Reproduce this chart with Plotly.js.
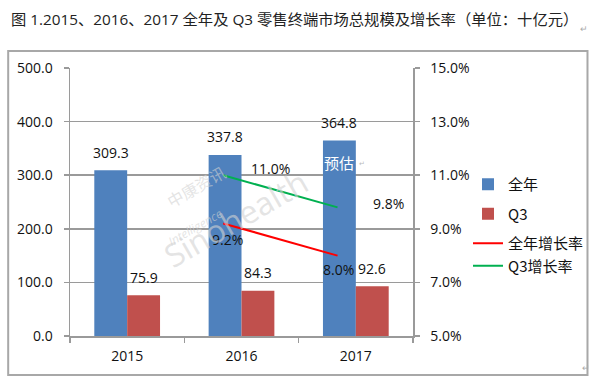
<!DOCTYPE html>
<html>
<head>
<meta charset="utf-8">
<script src="https://cdn.plot.ly/plotly-3.0.1.min.js"></script>
<style>html,body{margin:0;padding:0;background:#fff;}#chart{width:600px;height:390px;}</style>
</head>
<body>
<div id="chart"></div>
<script>
// ---- data ----
const years = ['2015', '2016', '2017'];
const fullYear = [309.3, 337.8, 364.8];          // 全年 (十亿元)
const q3 = [75.9, 84.3, 92.6];                    // Q3 (十亿元)
const growthYears = ['2016', '2017'];
const fullYearGrowth = [9.2, 8.0];                // 全年增长率 (%)
const q3Growth = [11.0, 9.8];                     // Q3增长率 (%)
const leftTicks = [0, 100, 200, 300, 400, 500];
const rightTicks = [5, 7, 9, 11, 13, 15];

// ---- style ----
const FONT = '"Open Sans", "Noto Sans CJK SC", sans-serif';
const CJK = '"Noto Sans CJK SC", sans-serif';
const BLUE = '#4F81BD', RED = '#C0504D', LRED = '#FF0000', LGREEN = '#00B050';
const AXC = '#9a9a9a';
const BAR_SHIFT = 16.5;     // px from category center to each bar center
const LINE_OFFSET = -0.16;  // category units

const idx = y => years.indexOf(y);

const traces = [
  {type: 'bar', name: '全年', x: years, y: fullYear, marker: {color: BLUE},
   legendgroup: 'a', hoverinfo: 'none'},
  {type: 'bar', name: 'Q3', x: years, y: q3, marker: {color: RED},
   legendgroup: 'b', hoverinfo: 'none'},
  {type: 'scatter', mode: 'lines', name: '全年增长率',
   x: growthYears.map(y => idx(y) + LINE_OFFSET), y: fullYearGrowth,
   xaxis: 'x2', yaxis: 'y2', line: {color: LRED, width: 2}, legendgroup: 'c', hoverinfo: 'none'},
  {type: 'scatter', mode: 'lines', name: 'Q3增长率',
   x: growthYears.map(y => idx(y) + LINE_OFFSET), y: q3Growth,
   xaxis: 'x2', yaxis: 'y2', line: {color: LGREEN, width: 2}, legendgroup: 'c', hoverinfo: 'none'}
];

const annFont = {family: FONT, size: 14, color: '#111'};
const annotations = [];
years.forEach((y, i) => {
  annotations.push({x: i, y: fullYear[i], xref: 'x', yref: 'y', text: fullYear[i].toFixed(1),
    showarrow: false, xshift: -BAR_SHIFT, yshift: 18, font: annFont});
  annotations.push({x: i, y: q3[i], xref: 'x', yref: 'y', text: q3[i].toFixed(1),
    showarrow: false, xshift: BAR_SHIFT, yshift: 18, font: annFont});
});
const redShift = [[4, -16], [1, -14]];
const greenShift = [[47, 7], [51, 4]];
growthYears.forEach((y, i) => {
  annotations.push({x: idx(y) + LINE_OFFSET, y: fullYearGrowth[i], xref: 'x2', yref: 'y2',
    text: fullYearGrowth[i].toFixed(1) + '%', showarrow: false,
    xshift: redShift[i][0], yshift: redShift[i][1], font: annFont});
  annotations.push({x: idx(y) + LINE_OFFSET, y: q3Growth[i], xref: 'x2', yref: 'y2',
    text: q3Growth[i].toFixed(1) + '%', showarrow: false,
    xshift: greenShift[i][0], yshift: greenShift[i][1], font: annFont});
});
// 预估 label inside 2017 full-year bar
annotations.push({x: idx('2017'), y: fullYear[2], xref: 'x', yref: 'y', text: '预估', showarrow: false,
  xshift: -BAR_SHIFT, yshift: -22, font: {family: CJK, size: 15, color: '#ffffff'}});

const L = 70, R = 186, T = 68, B = 54, W = 600, H = 390;
const pw = W - L - R, ph = H - T - B;
const px = v => (v - L) / pw, py = v => (H - B - v) / ph;

// watermark
const WM = 'rgba(210,210,210,0.6)';
annotations.push({x: px(160), y: py(186), xref: 'paper', yref: 'paper', text: '中康资讯', showarrow: false,
  textangle: -30, font: {family: CJK, size: 16, color: WM}});
annotations.push({x: px(153), y: py(218), xref: 'paper', yref: 'paper', text: 'Sinohealth', showarrow: false,
  textangle: -30, font: {family: '"Open Sans", sans-serif', size: 32, color: WM}});
annotations.push({x: px(195), y: py(227), xref: 'paper', yref: 'paper', text: '<i>Intelligence</i>', showarrow: false,
  textangle: -30, font: {family: '"Open Sans", sans-serif', size: 12, color: WM}});
// paragraph marks
annotations.push({x: px(592), y: py(20), xref: 'paper', yref: 'paper', text: '↵',
  showarrow: false, font: {family: CJK, size: 9, color: '#aaa'}});
annotations.push({x: px(594), y: py(376), xref: 'paper', yref: 'paper', text: '↵',
  showarrow: false, font: {family: CJK, size: 9, color: '#aaa'}});
annotations.push({x: px(368), y: py(163), xref: 'paper', yref: 'paper', text: '↵',
  showarrow: false, font: {family: CJK, size: 7, color: '#bbb'}});

const tickFont = {family: FONT, size: 14, color: '#111'};
const layout = {
  width: W, height: H,
  margin: {l: L, r: R, t: T, b: B},
  paper_bgcolor: '#fff', plot_bgcolor: '#fff',
  font: {family: FONT, size: 14, color: '#111'},
  title: {text: '图 1.2015、2016、2017 全年及 Q3 零售终端市场总规模及增长率（单位：十亿元）',
    x: 11 / W, xanchor: 'left', y: 1 - 19.5 / H, yanchor: 'middle',
    font: {family: FONT, size: 15.3, color: '#222'}},
  barmode: 'group', bargap: 0.425, bargroupgap: 0,
  showlegend: true,
  legend: {x: px(468), xanchor: 'left', y: py(168), yanchor: 'top',
    font: {family: CJK, size: 15, color: '#111'}, tracegroupgap: 7, traceorder: 'grouped',
    bgcolor: 'rgba(0,0,0,0)', itemwidth: 30},
  xaxis: {type: 'category', range: [-0.5, 2.5], showgrid: false, showline: true, linecolor: AXC, linewidth: 1.5,
    ticks: 'outside', tickson: 'boundaries', ticklen: 5, tickcolor: AXC, tickwidth: 1.5,
    ticklabelstandoff: 7, tickangle: 0, tickfont: tickFont, fixedrange: true},
  xaxis2: {overlaying: 'x', type: 'linear', range: [-0.5, 2.5], visible: false, fixedrange: true},
  yaxis: {range: [0, 500], tickvals: leftTicks, ticktext: leftTicks.map(v => v.toFixed(1)),
    showgrid: true, gridcolor: AXC,
    gridwidth: 1.5, zeroline: false, showline: true, linecolor: AXC, linewidth: 1.5,
    ticks: 'outside', ticklen: 5, tickcolor: AXC, tickwidth: 1.5, ticklabelstandoff: 8,
    tickfont: tickFont, fixedrange: true},
  yaxis2: {overlaying: 'y', side: 'right', range: [5, 15], tickvals: rightTicks,
    ticktext: rightTicks.map(v => v.toFixed(1) + '%'),
    showgrid: false, zeroline: false, showline: true,
    linecolor: AXC, linewidth: 1.5, ticks: 'outside', ticklen: 5, tickcolor: AXC, tickwidth: 1.5,
    ticklabelstandoff: 8, tickfont: tickFont, fixedrange: true},
  annotations: annotations,
  shapes: [{type: 'rect', xref: 'paper', yref: 'paper',
    x0: px(8), x1: px(589), y0: py(375), y1: py(51),
    line: {color: '#a8a8a8', width: 2}, fillcolor: 'rgba(0,0,0,0)', layer: 'below'}]
};

Plotly.newPlot('chart', traces, layout, {displayModeBar: false, staticPlot: true});
</script>
</body>
</html>
